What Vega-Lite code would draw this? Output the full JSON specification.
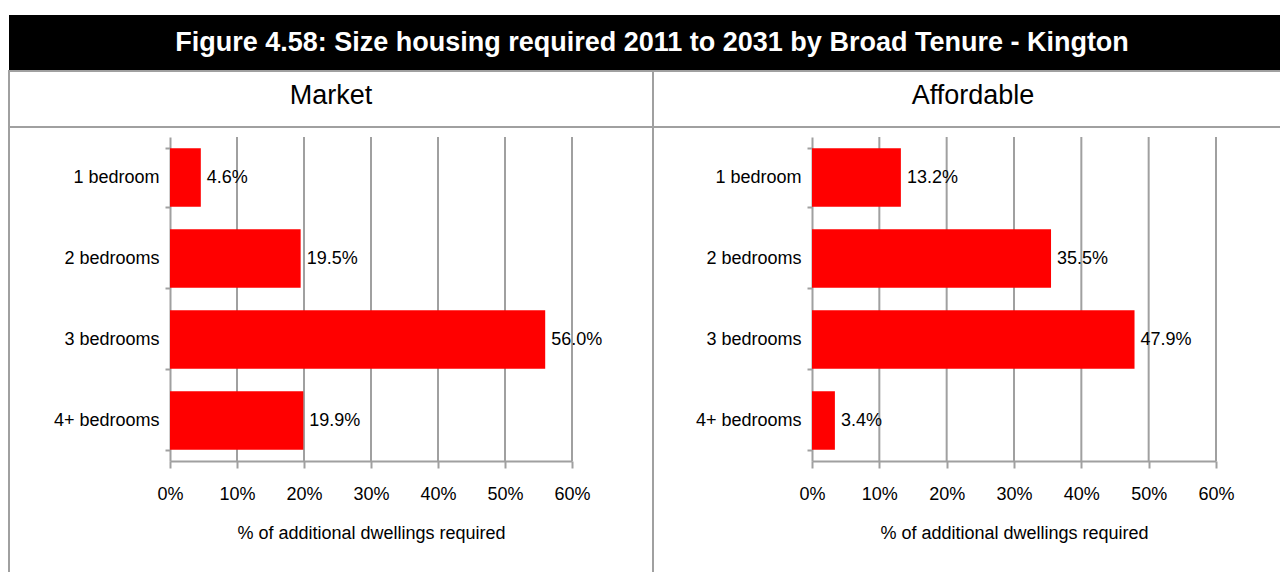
{
  "$schema": "https://vega.github.io/schema/vega-lite/v6.json",
  "padding": {"left": 8, "top": 15, "right": -2, "bottom": -2},
  "background": "white",
  "columns": 2,
  "spacing": 0,
  "bounds": "flush",
  "config": {
    "font": "Liberation Sans",
    "view": {"stroke": "#a0a0a0", "strokeWidth": 2},
    "concat": {"spacing": 0},
    "axis": {
      "domainColor": "#a0a0a0", "domainWidth": 2,
      "tickColor": "#a0a0a0", "tickWidth": 2,
      "labelFlush": false,
      "labelFont": "Liberation Sans", "labelFontSize": 18, "labelColor": "black",
      "titleFont": "Liberation Sans", "titleFontSize": 18, "titleFontWeight": "normal", "titleColor": "black"
    }
  },
  "datasets": {
    "bars": [
      {"panel": "Market", "size": "1 bedroom", "share": 0.046},
      {"panel": "Market", "size": "2 bedrooms", "share": 0.195},
      {"panel": "Market", "size": "3 bedrooms", "share": 0.560},
      {"panel": "Market", "size": "4+ bedrooms", "share": 0.199},
      {"panel": "Affordable", "size": "1 bedroom", "share": 0.132},
      {"panel": "Affordable", "size": "2 bedrooms", "share": 0.355},
      {"panel": "Affordable", "size": "3 bedrooms", "share": 0.479},
      {"panel": "Affordable", "size": "4+ bedrooms", "share": 0.034}
    ],
    "gridticks": [
      {"tick": 0.1}, {"tick": 0.2}, {"tick": 0.3}, {"tick": 0.4}, {"tick": 0.5}, {"tick": 0.6}
    ]
  },
  "concat": [
    {
      "width": 644, "height": 56,
      "view": {"fill": "black", "stroke": null},
      "data": {"values": [{"t": ""}]},
      "mark": {"type": "text", "color": "white"},
      "encoding": {"text": {"field": "t"}}
    },
    {
      "width": 630, "height": 56,
      "view": {"fill": "black", "stroke": null},
      "data": {"values": [{"t": "Figure 4.58: Size housing required 2011 to 2031 by Broad Tenure - Kington"}]},
      "mark": {"type": "text", "color": "white", "fontWeight": "bold", "fontSize": 27, "dx": -316},
      "encoding": {"text": {"field": "t"}}
    },
    {
      "width": 644, "height": 56,
      "view": {"stroke": "#a0a0a0", "strokeWidth": 2},
      "data": {"values": [{"t": "Market"}]},
      "mark": {"type": "text", "color": "black", "fontSize": 27, "dy": -3},
      "encoding": {"text": {"field": "t"}}
    },
    {
      "width": 630, "height": 56,
      "view": {"stroke": "#a0a0a0", "strokeWidth": 2},
      "data": {"values": [{"t": "Affordable"}]},
      "mark": {"type": "text", "color": "black", "fontSize": 27, "dx": 5, "dy": -3},
      "encoding": {"text": {"field": "t"}}
    },
    {
      "width": 644, "height": 447,
      "resolve": {"scale": {"y": "independent"}},
      "layer": [
        {
          "data": {"name": "gridticks"},
          "mark": {"type": "rule", "color": "#a0a0a0", "strokeWidth": 2},
          "encoding": {
            "x": {"field": "tick", "type": "quantitative",
              "scale": {"domain": [0, 0.6], "range": [161, 563], "nice": false},
              "axis": {"values": [0, 0.1, 0.2, 0.3, 0.4, 0.5, 0.6], "format": "%", "title": "% of  additional dwellings required",
                "offset": -113, "grid": false, "tickSize": 7, "labelPadding": 17, "titlePadding": 21}},
            "y": {"datum": 0, "type": "quantitative", "scale": {"domain": [0, 1], "range": [10, 334], "nice": false, "zero": false}, "axis": null},
            "y2": {"datum": 1}
          }
        },
        {
          "data": {"name": "bars"},
          "transform": [{"filter": "datum.panel === 'Market'"}],
          "encoding": {
            "y": {"field": "size", "type": "nominal", "sort": null,
              "scale": {"range": [10, 334], "paddingInner": 0.28, "paddingOuter": 0.14},
              "axis": {"title": null, "offset": -161, "tickBand": "extent", "tickSize": 5, "labelPadding": 6, "grid": false}},
            "x": {"field": "share", "type": "quantitative",
              "scale": {"domain": [0, 0.6], "range": [161, 563], "nice": false},
              "axis": {"values": [0, 0.1, 0.2, 0.3, 0.4, 0.5, 0.6], "format": "%", "title": "% of  additional dwellings required",
                "offset": -113, "grid": false, "tickSize": 7, "labelPadding": 17, "titlePadding": 21}}
          },
          "layer": [
            {"mark": {"type": "bar", "color": "#ff0000"}},
            {"mark": {"type": "text", "align": "left", "baseline": "middle", "dx": 6, "fontSize": 18, "color": "black"},
              "encoding": {"text": {"field": "share", "type": "quantitative", "format": ".1%"}}}
          ]
        }
      ]
    },
    {
      "width": 630, "height": 447,
      "resolve": {"scale": {"y": "independent"}},
      "layer": [
        {
          "data": {"name": "gridticks"},
          "mark": {"type": "rule", "color": "#a0a0a0", "strokeWidth": 2},
          "encoding": {
            "x": {"field": "tick", "type": "quantitative",
              "scale": {"domain": [0, 0.6], "range": [159, 563], "nice": false},
              "axis": {"values": [0, 0.1, 0.2, 0.3, 0.4, 0.5, 0.6], "format": "%", "title": "% of  additional dwellings required",
                "offset": -113, "grid": false, "tickSize": 7, "labelPadding": 17, "titlePadding": 21}},
            "y": {"datum": 0, "type": "quantitative", "scale": {"domain": [0, 1], "range": [10, 334], "nice": false, "zero": false}, "axis": null},
            "y2": {"datum": 1}
          }
        },
        {
          "data": {"name": "bars"},
          "transform": [{"filter": "datum.panel === 'Affordable'"}],
          "encoding": {
            "y": {"field": "size", "type": "nominal", "sort": null,
              "scale": {"range": [10, 334], "paddingInner": 0.28, "paddingOuter": 0.14},
              "axis": {"title": null, "offset": -159, "tickBand": "extent", "tickSize": 5, "labelPadding": 6, "grid": false}},
            "x": {"field": "share", "type": "quantitative",
              "scale": {"domain": [0, 0.6], "range": [159, 563], "nice": false},
              "axis": {"values": [0, 0.1, 0.2, 0.3, 0.4, 0.5, 0.6], "format": "%", "title": "% of  additional dwellings required",
                "offset": -113, "grid": false, "tickSize": 7, "labelPadding": 17, "titlePadding": 21}}
          },
          "layer": [
            {"mark": {"type": "bar", "color": "#ff0000"}},
            {"mark": {"type": "text", "align": "left", "baseline": "middle", "dx": 6, "fontSize": 18, "color": "black"},
              "encoding": {"text": {"field": "share", "type": "quantitative", "format": ".1%"}}}
          ]
        }
      ]
    }
  ]
}
